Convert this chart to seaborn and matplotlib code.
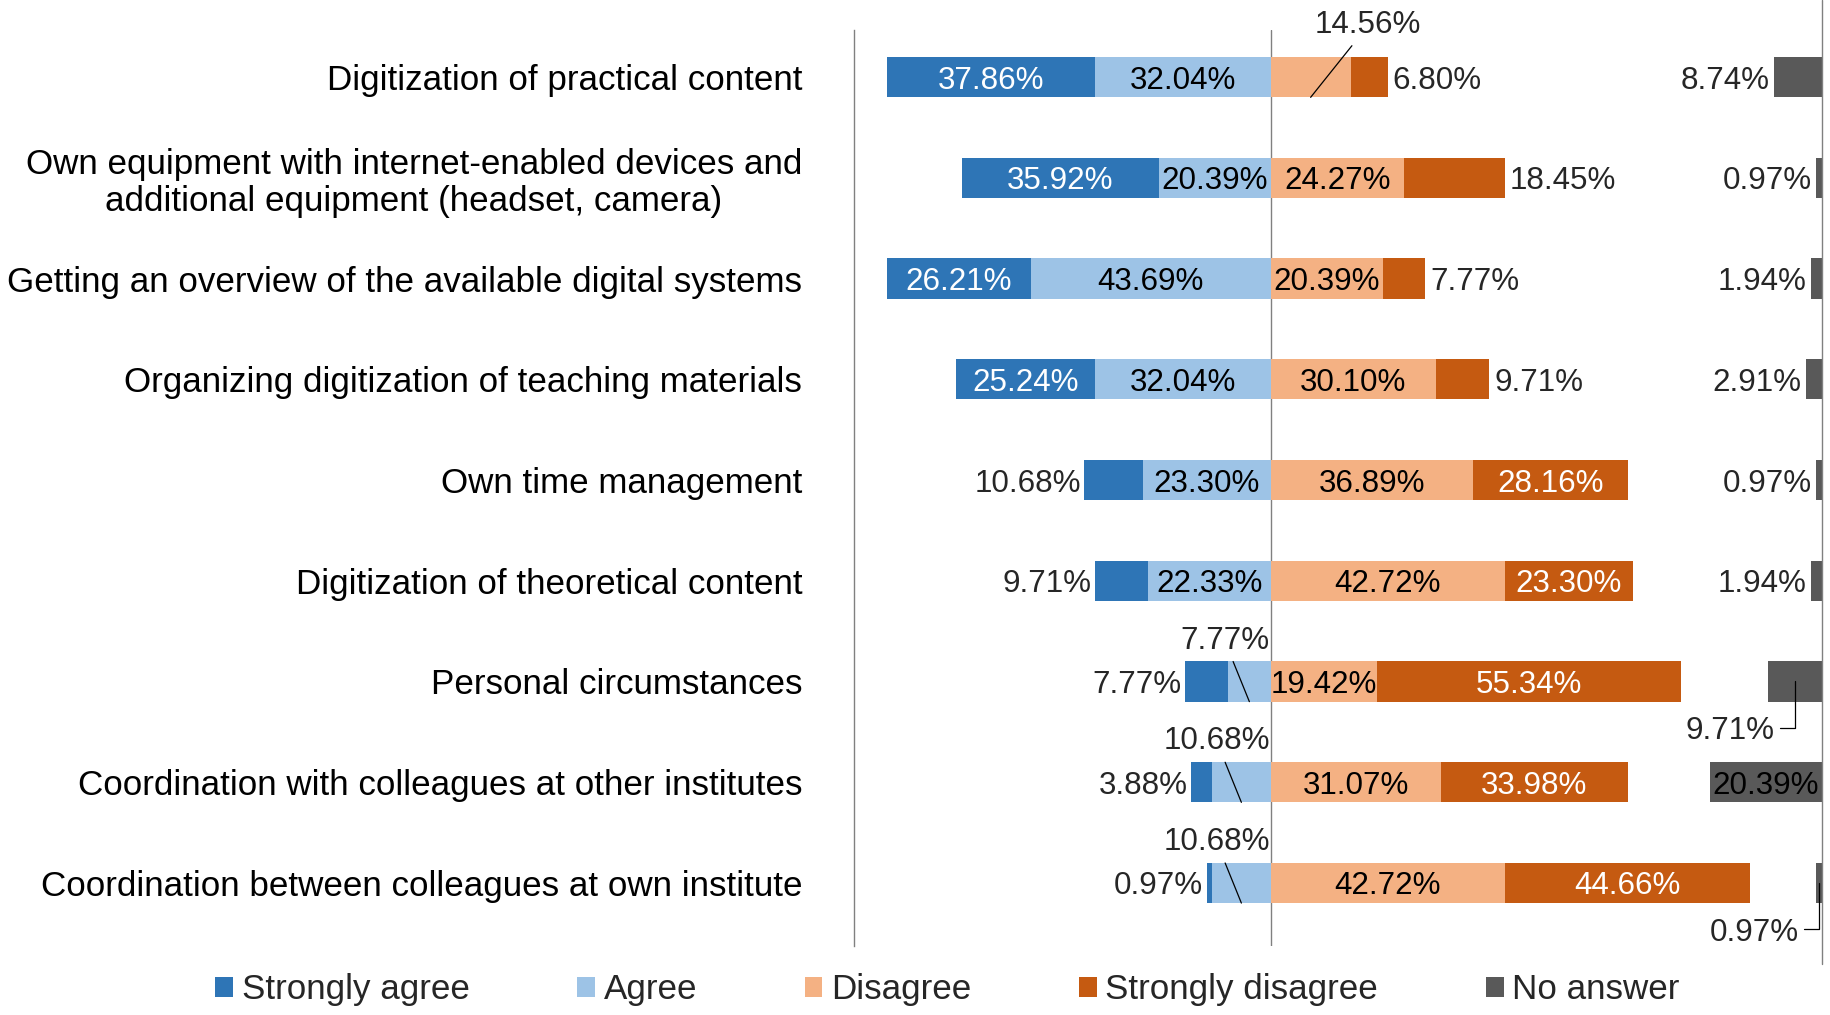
import matplotlib
matplotlib.use("Agg")
import matplotlib.pyplot as plt
from matplotlib.lines import Line2D
from matplotlib.patches import Patch
import seaborn as sns
import pandas as pd

# Survey answers (% of respondents)
categories = [
    "Digitization of practical content",
    "Own equipment with internet-enabled devices and\nadditional equipment (headset, camera)",
    "Getting an overview of the available digital systems",
    "Organizing digitization of teaching materials",
    "Own time management",
    "Digitization of theoretical content",
    "Personal circumstances",
    "Coordination with colleagues at other institutes",
    "Coordination between colleagues at own institute",
]
strongly_agree = [37.86, 35.92, 26.21, 25.24, 10.68, 9.71, 7.77, 3.88, 0.97]
agree = [32.04, 20.39, 43.69, 32.04, 23.30, 22.33, 7.77, 10.68, 10.68]
disagree = [14.56, 24.27, 20.39, 30.10, 36.89, 42.72, 19.42, 31.07, 42.72]
strongly_disagree = [6.80, 18.45, 7.77, 9.71, 28.16, 23.30, 55.34, 33.98, 44.66]
no_answer = [8.74, 0.97, 1.94, 2.91, 0.97, 1.94, 9.71, 20.39, 0.97]
legend_labels = ["Strongly agree", "Agree", "Disagree", "Strongly disagree", "No answer"]

df = pd.DataFrame({
    "category": categories,
    "sa": strongly_agree,
    "a": agree,
    "d": disagree,
    "sd": strongly_disagree,
    "na": no_answer,
})
df["left_total"] = -(df["sa"] + df["a"])
df["left_inner"] = -df["a"]
df["right_total"] = df["d"] + df["sd"]

C_SA, C_A, C_D, C_SD, C_NA = "#2E75B6", "#9DC3E6", "#F4B183", "#C55A11", "#595959"
GRID = "#808080"
LBL = 22.6    # data labels
CAT = 25.2    # category labels / legend

sns.set_theme(style="white")
plt.rcParams["font.family"] = ["Liberation Sans", "DejaVu Sans"]

fig = plt.figure(figsize=(18.31, 10.15), dpi=100)
rect = [0.4662, 0.068, 0.5287, 0.902]
ax = fig.add_axes(rect)
ax2 = fig.add_axes(rect, facecolor="none")

bar_kw = dict(y="category", orient="y", width=0.4, saturation=1,
              errorbar=None, linewidth=0)
sns.barplot(data=df, x="left_total", color=C_SA, ax=ax, **bar_kw)
sns.barplot(data=df, x="left_inner", color=C_A, ax=ax, **bar_kw)
sns.barplot(data=df, x="right_total", color=C_SD, ax=ax, **bar_kw)
sns.barplot(data=df, x="d", color=C_D, ax=ax, **bar_kw)
sns.barplot(data=df, x="na", color=C_NA, ax=ax2, **bar_kw)

ylim = (8.626, -0.464)
ax.set_xlim(-76, 100.4)
ax.set_ylim(*ylim)
ax2.set_xlim(176.4, 0)
ax2.set_ylim(*ylim)

ax.set_xlabel("")
ax.set_ylabel("")
ax2.set_xlabel("")
ax2.set_ylabel("")
ax.set_xticks([])
ax2.set_xticks([])
ax2.set_yticks([])
ax.set_yticks(range(len(categories)))
ax.set_yticklabels(categories, fontsize=CAT, color="black", ha="right",
                   multialignment="center", linespacing=1.12)
ax.tick_params(axis="y", length=0, pad=37)
for s in ["top", "right", "bottom"]:
    ax.spines[s].set_visible(False)
ax.spines["left"].set_color(GRID)
ax.spines["left"].set_linewidth(1)
for s in ax2.spines.values():
    s.set_visible(False)
ax.axvline(0, color=GRID, lw=1, zorder=0.5)
fig.add_artist(Line2D([0.9949, 0.9949], [0.05, 1.0], transform=fig.transFigure,
                      color=GRID, lw=1))

txt = dict(fontsize=LBL, va="center_baseline")
line_kw = dict(arrowstyle="-", color="black", lw=0.9, shrinkA=2, shrinkB=0)
na_callout = [6, 8]

for i, row in df.iterrows():
    sa, a, d, sd, na = row["sa"], row["a"], row["d"], row["sd"], row["na"]

    # strongly agree
    if sa >= 19:
        ax.text(-(a + sa / 2), i, f"{sa:.2f}%", color="white", ha="center", **txt)
    else:
        ax.annotate(f"{sa:.2f}%", xy=(-(a + sa), i), xytext=(-2.5, 0),
                    textcoords="offset points", ha="right", **txt)

    # agree
    if a >= 19:
        ax.text(-a / 2, i, f"{a:.2f}%", color="black", ha="center", **txt)
    else:
        ax.annotate(f"{a:.2f}%", xy=(-a / 2, i + 0.2), xytext=(-a / 2 - 4.5, i - 0.44),
                    textcoords="data", ha="center", arrowprops=line_kw, **txt)

    # disagree
    if d >= 19:
        ax.text(d / 2, i, f"{d:.2f}%", color="black", ha="center", **txt)
    else:
        ax.annotate(f"{d:.2f}%", xy=(d / 2, i + 0.2), xytext=(d / 2 + 10.5, i - 0.55),
                    textcoords="data", ha="center", arrowprops=line_kw, **txt)

    # strongly disagree
    if sd >= 19:
        ax.text(d + sd / 2, i, f"{sd:.2f}%", color="white", ha="center", **txt)
    else:
        ax.annotate(f"{sd:.2f}%", xy=(d + sd, i), xytext=(3.5, 0),
                    textcoords="offset points", ha="left", **txt)

    # no answer (right panel, x grows leftwards)
    if na >= 19:
        ax2.text(na / 2, i, f"{na:.2f}%", color="black", ha="center", **txt)
    elif i in na_callout:
        ax2.plot([na / 2, na / 2, na / 2 + 2.8], [i, i + 0.46, i + 0.46],
                 color="black", lw=0.9, clip_on=False)
        ax2.text(na / 2 + 3.7, i + 0.46, f"{na:.2f}%", ha="right", **txt)
    else:
        ax2.annotate(f"{na:.2f}%", xy=(na, i), xytext=(-3, 0),
                     textcoords="offset points", ha="right", **txt)

for t in ax.texts + ax2.texts:
    t.set_clip_on(False)

handles = [Patch(facecolor=c, edgecolor="none") for c in [C_SA, C_A, C_D, C_SD, C_NA]]
fig.legend(handles, legend_labels, loc="center", bbox_to_anchor=(0.5175, 0.025),
           ncol=5, frameon=False, fontsize=CAT, handlelength=0.5, handleheight=0.5,
           handletextpad=0.25, columnspacing=3.08)

fig.savefig("out.png", dpi=100)
